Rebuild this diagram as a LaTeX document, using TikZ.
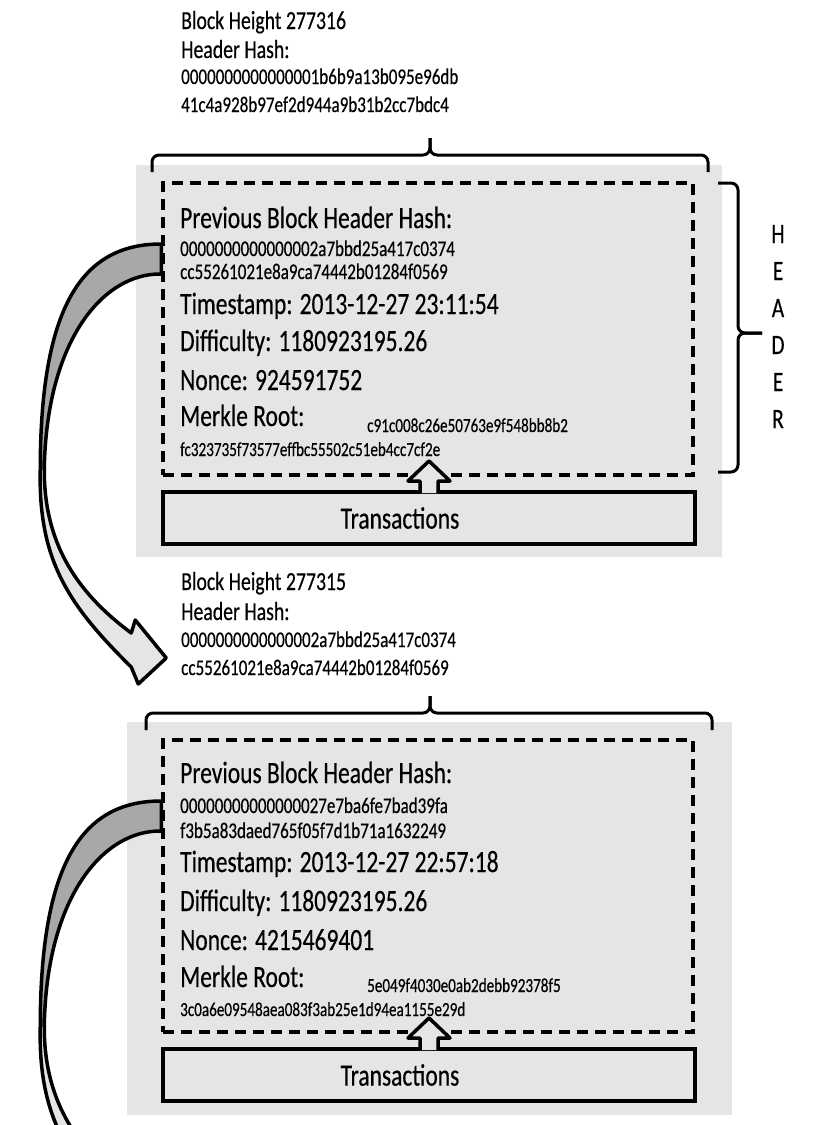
\documentclass[tikz,border=0pt]{standalone}
\usepackage{fontspec}
\setmainfont[FakeStretch=0.76,FakeBold=0.4]{Carlito}
\usetikzlibrary{calc}
\definecolor{blkgray}{gray}{0.9}
\definecolor{ribdark}{gray}{0.66}

\begin{document}
\begin{tikzpicture}
[x=1pt,y=-1pt,
txt/.style={anchor=base west,inner sep=0pt},
lbl/.style={txt,font=\fontsize{26}{26}\selectfont},
big/.style={txt,font=\fontsize{30.9}{30.9}\selectfont},
hash/.style={txt,font=\fontsize{22.4}{22.4}\selectfont},
tiny/.style={txt,font=\fontsize{19.9}{19.9}\selectfont},
side/.style={anchor=base,inner sep=0pt,font=\fontsize{28}{28}\selectfont},
hdrbox/.style={draw,line width=3.5pt,dash pattern=on 11pt off 7pt,minimum width=530pt,minimum height=292pt,inner sep=0pt},
txbox/.style={draw,line width=4pt,minimum width=532pt,minimum height=52pt,inner sep=0pt},
brace/.style={line width=3pt,rounded corners=7pt},
uparrow/.style={fill=blkgray,draw,line width=3.5pt,line join=round},
ribline/.style={draw,line width=3.5pt,line join=round},
chainarrow/.pic={
\fill[ribdark] (0,-85) .. controls (-75,-85) and (-121,-30) .. (-121,141) -- (-117,141) .. controls (-115,11) and (-58,-56) .. (0,-55) -- cycle;
\fill[blkgray] (-121,141) .. controls (-123,231) and (-93,276) .. (-30,338) -- (-23,355) -- (5,329) -- (-26,291) -- (-30,304) .. controls (-88,261) and (-117,211) .. (-117,141) -- cycle;
\draw[ribline] (0,-85) .. controls (-75,-85) and (-121,-30) .. (-121,141) .. controls (-123,231) and (-93,276) .. (-30,338) -- (-23,355) -- (5,329) -- (-26,291) -- (-30,304) .. controls (-88,261) and (-117,211) .. (-117,141) .. controls (-115,11) and (-58,-56) .. (0,-55) -- cycle;
}]
\useasboundingbox (0,0) rectangle (826,1125);
\fill[blkgray] (136,165) rectangle (722,557);
\fill[blkgray] (127,722) rectangle (732,1115);
\draw[brace] (152,172) |- (430,155) -- (430,138);
\draw[brace] (430,138) -- (430,155) -| (708,172);
\draw[brace] (718,183) -| (738,333) -- (762,333);
\draw[brace] (762,333) -- (738,333) |- (718,472);
\draw[brace] (146,730) |- (430,713) -- (430,696);
\draw[brace] (430,696) -- (430,713) -| (712,730);
\node[hdrbox] (hdr1) at (428,329) {};
\node[hdrbox] (hdr2) at (428,886) {};
\node[txbox] (tx1) at (429,518) {};
\node[txbox] (tx2) at (429,1075) {};
\foreach \t in {tx1,tx2}
\filldraw[uparrow] ($(\t.north)+(-9,3)$) -- ++(0,-12) -- ++(-12,0) -- ($(\t.north)+(0,-29)$) -- ($(\t.north)+(21,-9)$) -- ++(-12,0) -- ++(0,12);
\node[big,anchor=center] (trans1) at (400,518) {Transactions};
\node[big,anchor=center] (trans2) at (400,1075) {Transactions};
\node[lbl] (height1) at (181,29) {Block Height 277316};
\node[lbl] (hhash1) at (181,58) {Header Hash:};
\node[hash] (hh1a) at (181,84) {0000000000000001b6b9a13b095e96db};
\node[hash] (hh1b) at (181,112) {41c4a928b97ef2d944a9b31b2cc7bdc4};
\node[big] (prev1) at (180,228) {Previous Block Header Hash:};
\node[hash] (ph1a) at (180,256) {0000000000000002a7bbd25a417c0374};
\node[hash] (ph1b) at (180,279) {cc55261021e8a9ca74442b01284f0569};
\node[big] (time1) at (180,314) {Timestamp: 2013-12-27 23:11:54};
\node[big] (diff1) at (180,351) {Difficulty: 1180923195.26};
\node[big] (nonce1) at (180,390) {Nonce: 924591752};
\node[big] (merkle1) at (180,426) {Merkle Root:};
\node[tiny] (mr1a) at (367,432) {c91c008c26e50763e9f548bb8b2};
\node[tiny] (mr1b) at (180,456) {fc323735f73577effbc55502c51eb4cc7cf2e};
\node[lbl] (height2) at (181,590) {Block Height 277315};
\node[lbl] (hhash2) at (181,620) {Header Hash:};
\node[hash] (hh2a) at (181,647) {0000000000000002a7bbd25a417c0374};
\node[hash] (hh2b) at (181,675) {cc55261021e8a9ca74442b01284f0569};
\node[big] (prev2) at (180,783) {Previous Block Header Hash:};
\node[hash] (ph2a) at (180,813) {00000000000000027e7ba6fe7bad39fa};
\node[hash] (ph2b) at (180,838) {f3b5a83daed765f05f7d1b71a1632249};
\node[big] (time2) at (180,872) {Timestamp: 2013-12-27 22:57:18};
\node[big] (diff2) at (180,911) {Difficulty: 1180923195.26};
\node[big] (nonce2) at (180,950) {Nonce: 4215469401};
\node[big] (merkle2) at (180,987) {Merkle Root:};
\node[tiny] (mr2a) at (367,992) {5e049f4030e0ab2debb92378f5};
\node[tiny] (mr2b) at (180,1016) {3c0a6e09548aea083f3ab25e1d94ea1155e29d};
\foreach \c [count=\i] in {H,E,A,D,E,R}
\node[side] (side\i) at (778,206+37*\i) {\c};
\pic at (hdr1.west) {chainarrow};
\begin{scope}
\clip (0,0) rectangle (826,1125);
\pic at (hdr2.west) {chainarrow};
\end{scope}
\end{tikzpicture}
\end{document}
